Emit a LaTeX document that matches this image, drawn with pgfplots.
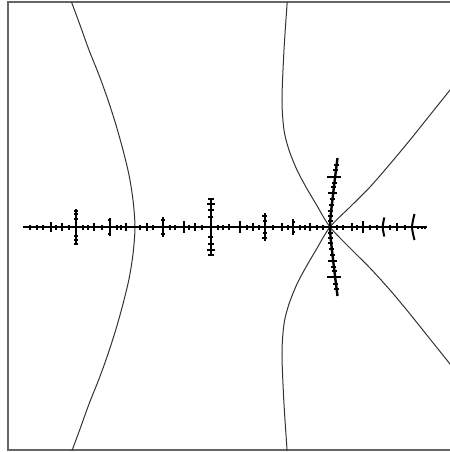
\documentclass[border=0pt]{standalone}
\usepackage{pgfplots}
\pgfplotsset{compat=1.18}

% ticks on the real axis: x, y, half height (pixel units)
\pgfplotstableread{
x y e
30 227 2.5
36.7 227 2.5
42.7 227 2.5
50.7 227 5
56 227 2.5
61.7 227 4
69.3 227 2.5
76 227 18
83.3 227 2.5
88.3 227 2.5
94 227 4
101.7 227 2.5
110 227 9
116.7 227 2.5
121 227 2.5
126 227 4
140 227 2.5
146.7 227 4
153.3 227 2.5
163.3 227 10
170 227 2.5
175 227 2.5
184.3 227 6
189.3 227 2.5
195 227 4
201.7 227 2.5
211 227 29
218.3 227 2.5
223.3 227 2.5
229 227 3
240 227 6
246.7 227 2.5
253 227 4
259 227 2.5
265 227 14
273.3 227 2.5
281.7 227 4
288.3 227 2.5
293.3 227 8
300 227 2.5
305 227 2.5
310 227 4
316.7 227 2.5
323.3 227 2.5
336.7 227 2.5
343.3 227 2.5
351.7 227 4
356.7 227 2.5
363.3 227 6
370 227 2.5
376.7 227 2.5
390 227 2.5
397.3 227 4
405 227 2.5
418 227 1.5
421.7 227 1.5
425 227 1.5
}\vticks

% crossbars on the branches: x, y, half width
\pgfplotstableread{
x y e
76 211 2
76 214 2
76 219 2
76 236 2
76 240 2
76 244 2
110 220 1.5
110 234 1.5
163.3 220 2
163.3 234 2
211 199 3
211 204 4
211 210 3
211 217 2.5
211 237 2.5
211 244 3
211 250 4
211 255 3
265 216 2.5
265 221 2
265 233 2
265 238 2.5
293.3 222 1.5
293.3 232 1.5
337 165 2.5
336 170 2.5
334.5 177 7
334.5 183 2.5
334 187 2.5
333 193 4.5
332.5 199 2.5
331.5 205 2.5
331 211 2.5
330.5 216 2.5
330.2 221 2.5
330.2 233 2.5
330.5 238 2.5
331 243 2.5
331.5 249 2.5
332.5 255 2.5
333 261 4.5
334 267 2.5
334.5 271 2.5
334.5 277 7
336 284 2.5
337 289 2.5
}\hticks

\begin{document}
\begin{tikzpicture}
\begin{axis}[
    scale only axis,
    width=226pt, height=224pt,
    xmin=8, xmax=460,
    ymin=2, ymax=450,
    y dir=reverse,
    xtick=\empty, ytick=\empty,
    axis line style={black!60, line width=0.6pt},
]
\coordinate (bl) at (axis cs:0,452);
\coordinate (tr) at (axis cs:450,0);

% level curves
\addplot[black!80, line width=0.5pt, smooth] coordinates {
(70,-2) (80,25) (89,50) (99,75) (108,100) (116,125) (123,150) (129,175) (133,200) (135,227)
(133,254) (129,279) (123,304) (116,329) (108,354) (99,379) (89,404) (80,429) (70,456)
};
\addplot[black!80, line width=0.5pt, smooth] coordinates {
(287.5,-2) (284,50) (282,100) (284,130) (289,150) (297,170) (306,187) (316,204) (330,227)
(350,248) (370,268) (390,290) (410,314) (430,339) (450,364) (460,377)
};
\addplot[black!80, line width=0.5pt, smooth] coordinates {
(287.5,456) (284,404) (282,354) (284,324) (289,304) (297,284) (306,267) (316,250) (330,227)
(350,207) (370,187) (390,164) (410,140) (430,115) (450,90) (460,77)
};

% real axis and main spine
\addplot[black, line width=1.2pt] coordinates {(23,227) (427,227)};
\addplot[black, line width=1.2pt, smooth] coordinates {
(337.5,158) (336,170) (334.5,182) (333,195) (331.5,208) (330.5,218) (330,227)
(330.5,236) (331.5,246) (333,259) (334.5,272) (336,284) (337.5,296)
};
\addplot[black, line width=1pt, smooth] coordinates {(384.3,217.5) (382.7,227) (384.3,236.5)};
\addplot[black, line width=1pt, smooth] coordinates {(414.5,214) (412,227) (414.5,240)};

\addplot[black, only marks, mark=*, mark size=0pt, mark options={draw=none, fill=none},
    error bars/.cd, y dir=both, y explicit, error mark=none,
    error bar style={black, line width=1pt}]
    table[x=x, y=y, y error=e] {\vticks};
\addplot[black, only marks, mark=*, mark size=0pt, mark options={draw=none, fill=none},
    error bars/.cd, x dir=both, x explicit, error mark=none,
    error bar style={black, line width=0.9pt}]
    table[x=x, y=y, x error=e] {\hticks};
\end{axis}
\pgfresetboundingbox
\path[use as bounding box] (bl) rectangle (tr);
\end{tikzpicture}
\end{document}
